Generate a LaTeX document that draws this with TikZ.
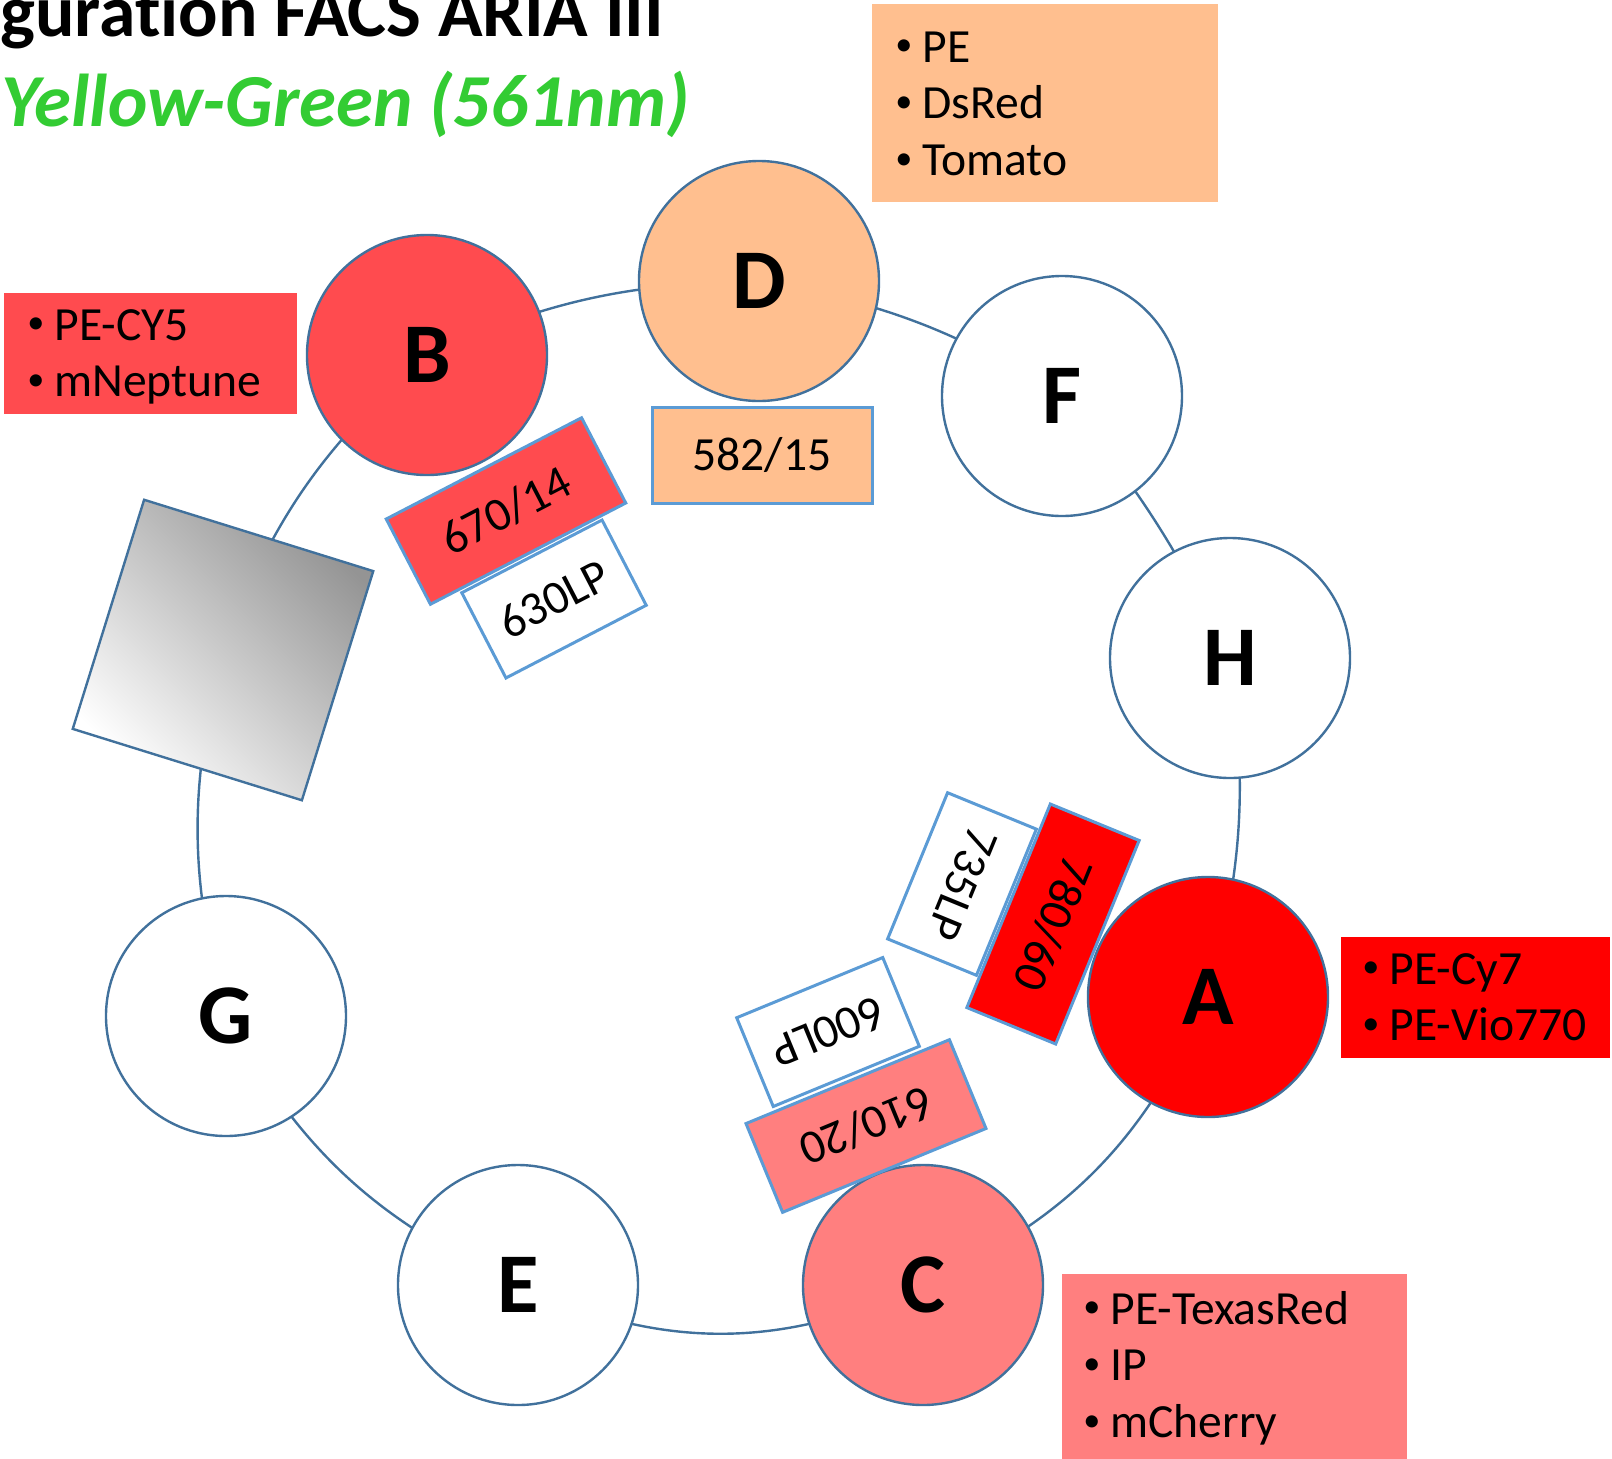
\documentclass[tikz,border=0pt]{standalone}
\usepackage{fontspec}
\usepackage{graphicx}
\setmainfont{Carlito}[Ligatures=NoCommon]
\usetikzlibrary{backgrounds}

\definecolor{ringblue}{HTML}{41719C}
\definecolor{filterblue}{HTML}{5B9BD5}
\definecolor{peach}{HTML}{FFBF8F}
\definecolor{redB}{HTML}{FF4B4F}
\definecolor{pinkC}{HTML}{FF7F7F}
\definecolor{titlegreen}{HTML}{33CC33}

\newcommand{\ringletter}{\fontsize{42.5pt}{50pt}\selectfont\bfseries}
\newcommand{\filtertext}{\fontsize{23.8pt}{28.35pt}\selectfont}
\newcommand{\headfont}{\fontsize{36.8pt}{44pt}\selectfont\bfseries}
\newcommand{\subheadfont}{\fontsize{37.4pt}{45pt}\selectfont\bfseries\itshape}
\newcommand{\bul}[1]{\makebox[13.5pt][l]{\raisebox{3.2pt}{\scalebox{0.72}{\textbullet}}}#1}

\begin{document}
\begin{tikzpicture}[x=0.5pt,y=-0.5pt]
	\tikzstyle{detector}=[circle, draw=ringblue, line width=1.2pt, fill=white, minimum size=120pt, inner sep=0pt, font=\ringletter]
	\tikzstyle{filterbox}=[rectangle, draw=filterblue, line width=1.5pt, minimum height=48pt, inner sep=0pt, font=\filtertext]
	\tikzstyle{bandpass}=[filterbox, minimum width=110pt]
	\tikzstyle{longpass}=[filterbox, fill=white, minimum width=79pt]
	\tikzstyle{legendbox}=[rectangle, inner sep=0pt, anchor=north west]
	\tikzstyle{legendtext}=[anchor=base west, inner sep=0pt, text width=170pt, align=left, font=\filtertext]
	\tikzstyle{ringline}=[draw=ringblue, line width=1.2pt]
	\useasboundingbox (0,0) rectangle (1612,1458);

	\node[anchor=base west, inner sep=0pt, font=\headfont] (title) at (0,36) {guration FACS ARIA III};
	\node[anchor=base west, inner sep=0pt, font=\subheadfont, text=titlegreen] (subtitle) at (1,126) {Yellow-Green (561nm)};

	\node[detector, fill=peach] (D) at (759,281) {D};
	\node[detector] (F) at (1062,396) {F};
	\node[detector] (H) at (1230,658) {H};
	\node[detector, fill=red] (A) at (1208,997) {A};
	\node[detector, fill=pinkC] (C) at (923,1285) {C};
	\node[detector] (E) at (518,1285) {E};
	\node[detector] (G) at (226,1016) {G};
	\node[detector, fill=redB] (B) at (427,355) {B};
	\node[rectangle, draw=ringblue, line width=1.2pt, minimum size=120pt, rotate=-17.3, bottom color=white, top color=black!42, shading angle=-45] (mirror) at (223,650) {};

	\begin{pgfonlayer}{background}
		\draw[ringline] (D.center) to[bend left=10.7] (F.center) to[bend left=6.9] (H.center)
			to[bend left=11.3] (A.center) to[bend left=20.7] (C.center) to[bend left=24.3] (E.center)
			to[bend left=18.3] (G.center) to[bend left=14.5] (mirror.center)
			to[bend left=13.9] (B.center) to[bend left=11.4] (D.center);
	\end{pgfonlayer}

	\node[longpass, rotate=27.4] (f630) at (554,599) {630LP};
	\node[bandpass, fill=redB, rotate=27.4] (f670) at (506,511) {670/14};
	\node[bandpass, fill=peach] (f582) at (762,455) {582/15};
	\node[longpass, rotate=-112.3] (f735) at (962,884) {735LP};
	\node[bandpass, fill=red, rotate=-112.3] (f780) at (1053,924) {780/60};
	\node[longpass, rotate=-157.6] (f600) at (828,1032) {600LP};
	\node[bandpass, fill=pinkC, rotate=-157.6] (f610) at (866,1126) {610/20};

	\node[legendbox, fill=peach, minimum width=173pt, minimum height=99pt] (legD) at (872,4) {};
	\node[legendtext] (legDtext) at (895,62) {\bul{PE}\\\bul{DsRed}\\\bul{Tomato}};
	\node[legendbox, fill=redB, minimum width=146.5pt, minimum height=60.5pt] (legB) at (4,293) {};
	\node[legendtext] (legBtext) at (27,340) {\bul{PE-CY5}\\\bul{mNeptune}};
	\node[legendbox, fill=red, minimum width=134.5pt, minimum height=60.5pt] (legA) at (1341,937) {};
	\node[legendtext] (legAtext) at (1362,984) {\bul{PE-Cy7}\\\bul{PE-Vio770}};
	\node[legendbox, fill=pinkC, minimum width=172.5pt, minimum height=98pt] (legC) at (1062,1274) {};
	\node[legendtext] (legCtext) at (1083,1324) {\bul{PE-TexasRed}\\\bul{IP}\\\bul{mCherry}};
\end{tikzpicture}
\end{document}
